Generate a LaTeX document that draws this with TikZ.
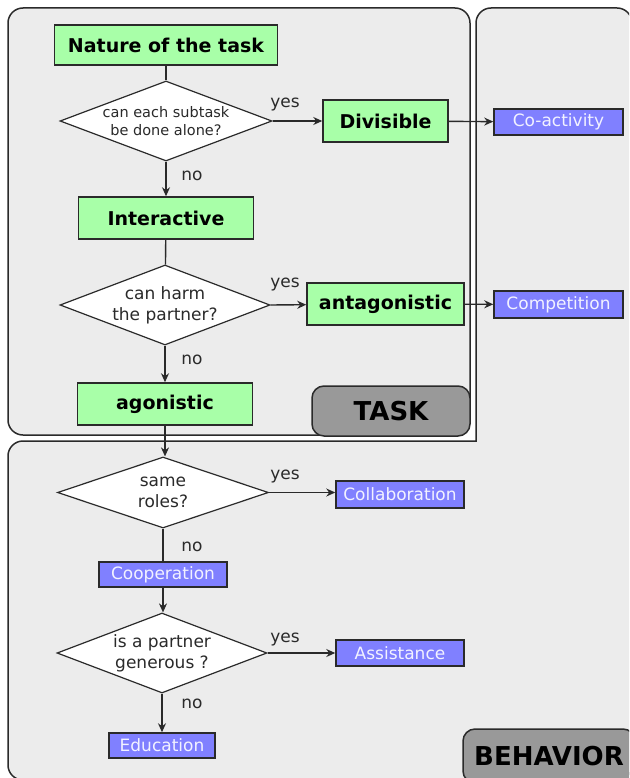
\documentclass[tikz,border=0pt]{standalone}
\usepackage{fontspec}
\setmainfont{DejaVu Sans}
\usetikzlibrary{shapes.geometric,arrows.meta}
\definecolor{regionfill}{HTML}{ECECEC}
\definecolor{edge}{HTML}{2A2A2A}
\definecolor{gbox}{HTML}{A8FFA8}
\definecolor{bbox}{HTML}{8080FF}
\definecolor{btext}{HTML}{F2F2FF}
\definecolor{labfill}{HTML}{999999}
\begin{document}
\begin{tikzpicture}[x=1pt,y=-1pt,
  region/.style={draw=edge,fill=regionfill,line width=1.5pt},
  gnode/.style={draw=edge,fill=gbox,line width=1.5pt,inner sep=0pt,font=\fontsize{19}{22}\selectfont\bfseries},
  bnode/.style={draw=edge,fill=bbox,line width=1.5pt,inner sep=0pt,text=btext,font=\fontsize{17}{20}\selectfont},
  dia/.style={diamond,draw=edge,fill=white,line width=1.2pt,inner sep=0pt},
  qtext/.style={align=center,text=edge},
  yn/.style={font=\fontsize{17}{20}\selectfont,text=edge},
  arr/.style={line width=1.4pt,draw=edge,-{Stealth[length=9pt,width=8pt]}},
  plain/.style={line width=1.4pt,draw=edge},
  tag/.style={draw=edge,fill=labfill,line width=1.5pt,rounded corners=12pt,font=\fontsize{26}{29}\selectfont\bfseries,inner sep=0pt}
]
\useasboundingbox (0,0) rectangle (629,778);
\clip (0,0) rectangle (629,778);
% regions
\draw[region, rounded corners=15pt] (8,8) rectangle (470,435);
\draw[region] (300,780) [rounded corners=15pt] -- (8,780) -- (8,441) [sharp corners] -- (476,441) [rounded corners=15pt] -- (476,8) -- (632,8) -- (632,780) -- cycle;
\node[tag, minimum width=172pt, minimum height=54pt] (behtag) at (549,756) {BEHAVIOR};
\node[tag, minimum width=158pt, minimum height=50pt] (tasktag) at (391,411) {TASK};
% task part
\node[gnode,minimum width=223pt,minimum height=40pt] (nature) at (166,45) {Nature of the task};
\node[dia,minimum width=212pt,minimum height=80pt,label={[qtext,font=\fontsize{14.5}{18}\selectfont]center:{can each subtask\\be done alone?}}] (d1) at (166,121) {};
\node[gnode,minimum width=175pt,minimum height=42pt] (inter) at (166,218) {Interactive};
\node[gnode,minimum width=125pt,minimum height=42pt] (div) at (385.5,121) {Divisible};
\node[bnode,minimum width=129pt,minimum height=26pt] (coact) at (558.5,122) {Co-activity};
\node[dia,minimum width=210pt,minimum height=80pt,label={[qtext,font=\fontsize{17}{21}\selectfont]center:{can harm\\the partner?}}] (d2) at (165,305) {};
\node[gnode,minimum width=157pt,minimum height=42pt] (anta) at (385.5,304) {antagonistic};
\node[bnode,minimum width=129pt,minimum height=27pt] (comp) at (558.5,304.5) {Competition};
\node[gnode,minimum width=175pt,minimum height=42pt] (ago) at (165,404) {agonistic};
% behavior part
\node[dia,minimum width=211pt,minimum height=71pt,label={[qtext,font=\fontsize{17}{21}\selectfont]center:{same\\roles?}}] (d3) at (163,492.5) {};
\node[bnode,minimum width=128pt,minimum height=27pt] (collab) at (400,494.5) {Collaboration};
\node[bnode,minimum width=128pt,minimum height=25pt] (coop) at (163,574.5) {Cooperation};
\node[dia,minimum width=210pt,minimum height=80pt,label={[qtext,font=\fontsize{17}{21}\selectfont]center:{is a partner\\generous ?}}] (d4) at (162,653) {};
\node[bnode,minimum width=128pt,minimum height=26pt] (assist) at (400,653) {Assistance};
\node[bnode,minimum width=106pt,minimum height=25pt] (edu) at (162,745.5) {Education};
% labels
\node[yn] (y1) at (285,105) {yes};
\node[yn] (n1) at (192,176) {no};
\node[yn] (y2) at (285,285) {yes};
\node[yn] (n2) at (192,359.5) {no};
\node[yn] (y3) at (285,477) {yes};
\node[yn] (n3) at (192,546.5) {no};
\node[yn] (y4) at (285,639) {yes};
\node[yn] (n4) at (192,703.5) {no};
% connectors
\draw[plain] (nature) -- (d1);
\draw[arr] (d1.east) -- (div);
\draw[arr] (d1.south) -- (inter);
\draw[arr] (div) -- (coact);
\draw[plain] (inter) -- (d2);
\draw[arr] (d2.east) -- (anta);
\draw[arr] (d2.south) -- (ago);
\draw[arr] (anta) -- (comp);
\draw[arr] (ago) -- (ago.south |- d3.north);
\draw[arr] (d3.east) -- (d3.east -| collab.west);
\draw[plain] (d3.south) -- (coop);
\draw[arr] (coop.south) -- (coop.south |- d4.north);
\draw[arr] (d4.east) -- (assist);
\draw[arr] (d4.south) -- (edu);
\end{tikzpicture}
\end{document}
